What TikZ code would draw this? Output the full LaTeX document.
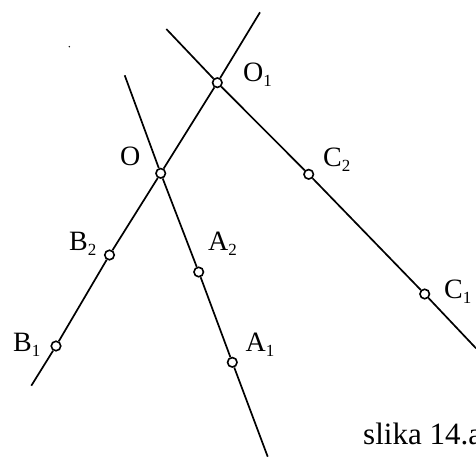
\documentclass[tikz,border=0pt]{standalone}
\usepackage{fontspec}
\setmainfont{Liberation Serif}
\usetikzlibrary{positioning}
\newcommand{\ix}[1]{\raisebox{-5pt}{\fontsize{17}{17}\selectfont #1}}
\tikzset{
  ray/.style={line width=1.7pt, draw=black},
  dot/.style={circle, draw=black, fill=white, line width=1.6pt,
    inner sep=0pt, minimum size=9.5pt},
  lbl/.style={anchor=base west, inner sep=0pt,
    font=\fontsize{28}{28}\selectfont}
}
\begin{document}
\begin{tikzpicture}[x=1pt, y=-1pt]
  \useasboundingbox (0,0) rectangle (476,457);

  % line ends
  \coordinate (b-lo) at (31.3,385.7);
  \coordinate (b-hi) at (260,12.3);
  \coordinate (a-hi) at (124.7,75.3);
  \coordinate (a-lo) at (267.7,456.7);
  \coordinate (c-hi) at (166.3,29);
  \coordinate (c-lo) at (476,348.3);

  % points
  \node[dot] (O1) at (217.3,82.7) {};
  \node[dot] (O) at (160.7,173.3) {};
  \node[dot] (B2) at (109.5,255) {};
  \node[dot] (B1) at (56,346) {};
  \node[dot] (A2) at (198.7,272) {};
  \node[dot] (A1) at (232.3,362.3) {};
  \node[dot] (C2) at (308.7,174.3) {};
  \node[dot] (C1) at (424.7,294) {};

  \draw[ray] (b-lo) -- (B1) -- (B2) -- (O) -- (O1) -- (b-hi);
  \draw[ray] (a-hi) -- (O) -- (A2) -- (A1) -- (a-lo);
  \draw[ray] (c-hi) -- (O1) -- (C2) -- (C1) -- (c-lo);

  \fill (69.3,46.7) circle (0.8pt);

  % labels
  \node[lbl] (lO1) at (243,81.5) {O\ix{1}};
  \node[lbl] (lO) at (120,165) {O};
  \node[lbl] (lC2) at (323,167) {C\ix{2}};
  \node[lbl] (lB2) at (69,250.5) {B\ix{2}};
  \node[lbl] (lA2) at (208,250.5) {A\ix{2}};
  \node[lbl] (lC1) at (444,298.5) {C\ix{1}};
  \node[lbl] (lB1) at (13,351.5) {B\ix{1}};
  \node[lbl] (lA1) at (245.5,351.5) {A\ix{1}};
  \node[lbl, font=\fontsize{31}{31}\selectfont] (cap) at (363,444) {slika 14.a};
\end{tikzpicture}
\end{document}
